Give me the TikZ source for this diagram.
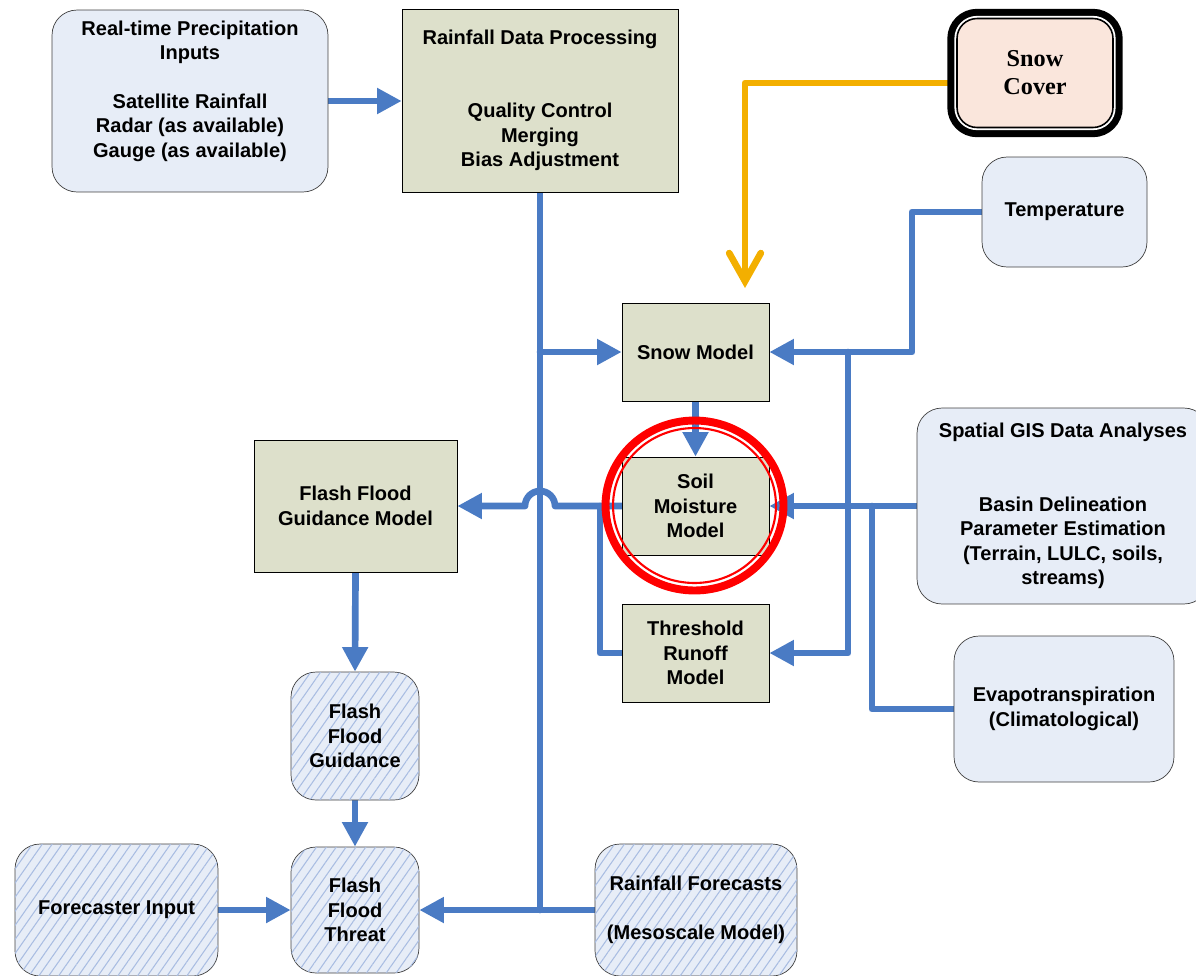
\documentclass[tikz,border=0pt]{standalone}
\usepackage{fontspec}
\setmainfont{Liberation Sans}
\newfontfamily\coverserif{Liberation Serif}
\usepackage{tikz}
\usetikzlibrary{arrows.meta,backgrounds,patterns.meta}
\definecolor{flowblue}{HTML}{4A7BC4}
\definecolor{snoworange}{HTML}{F3AF00}
\definecolor{paleblue}{HTML}{E7EDF7}
\definecolor{hatchblue}{HTML}{A9BDE2}
\definecolor{modelfill}{HTML}{DDE0CB}
\definecolor{peach}{HTML}{FAE6DC}
\definecolor{edgegray}{HTML}{404040}
\newcommand{\boxfont}{\fontsize{11.4}{13.9}\selectfont\bfseries}
\tikzstyle{inbox}=[rectangle,rounded corners=0.5cm,draw=edgegray,fill=paleblue,align=center,font=\boxfont]
\tikzstyle{hatchbox}=[inbox,postaction={pattern={Lines[angle=55,distance=4.6pt,line width=0.6pt]},pattern color=hatchblue}]
\tikzstyle{model}=[rectangle,draw=black,fill=modelfill,align=center,font=\boxfont]
\tikzstyle{cover}=[rectangle,rounded corners=0.4cm,fill=peach,draw=black,line width=0.9pt,preaction={draw=black,line width=11pt},preaction={draw=white,line width=3pt},align=center,font=\fontsize{13.8}{15.9}\selectfont\coverserif\bfseries]
\tikzstyle{link}=[draw=flowblue,line width=3.8pt,line cap=round,line join=round]
\tikzstyle{flow}=[link,-{Triangle[length=14pt,width=14pt]}]
\tikzstyle{snowflow}=[draw=snoworange,line width=3.8pt,line cap=round,line join=round,-{Straight Barb[length=16pt,width=18pt,line cap=round]}]

\begin{document}
\begin{tikzpicture}[x=0.02cm,y=-0.02cm]
        \useasboundingbox (0,0) rectangle (1196,975);
        \clip (0,0) rectangle (1196,975);

        \node at (190,101) [inbox,minimum width=5.52cm,minimum height=3.64cm] (rt) {Real-time Precipitation\\Inputs\\~\\Satellite Rainfall\\Radar (as available)\\Gauge (as available)\\~};
        \node at (540,100.5) [model,minimum width=5.52cm,minimum height=3.66cm] (rdp) {Rainfall Data Processing\\~\\~\\Quality Control\\Merging\\Bias Adjustment};
        \node at (1035,73) [cover,minimum width=3.12cm,minimum height=2.18cm] (snowcov) {Snow\\Cover};
        \node at (1064.5,212) [inbox,minimum width=3.3cm,minimum height=2.2cm] (temp) {Temperature};
        \node at (695.5,352) [model,minimum width=2.94cm,minimum height=1.96cm] (snowm) {Snow Model};
        \node at (695.5,506) [model,minimum width=2.94cm,minimum height=1.96cm] (soilm) {Soil\\Moisture\\Model};
        \node at (695.5,653) [model,minimum width=2.94cm,minimum height=1.96cm] (thr) {Threshold\\Runoff\\Model};
        \node at (355.5,506) [model,minimum width=4.06cm,minimum height=2.64cm] (ffgm) {Flash Flood\\Guidance Model};
        \node at (1063,506) [inbox,minimum width=5.84cm,minimum height=3.92cm] (gis) {Spatial GIS Data Analyses\\~\\~\\Basin Delineation\\Parameter Estimation\\(Terrain, LULC, soils,\\streams)};
        \node at (1064,709) [inbox,minimum width=4.4cm,minimum height=2.92cm] (evap) {Evapotranspiration\\(Climatological)};
        \node at (355,736) [hatchbox,minimum width=2.56cm,minimum height=2.56cm] (ffg) {Flash\\Flood\\Guidance};
        \node at (355,910) [hatchbox,minimum width=2.56cm,minimum height=2.52cm] (fft) {Flash\\Flood\\Threat};
        \node at (116.5,910) [hatchbox,minimum width=4.06cm,minimum height=2.64cm] (fci) {Forecaster Input};
        \node at (696,910) [hatchbox,minimum width=4.04cm,minimum height=2.64cm] (rf) {Rainfall Forecasts\\~\\(Mesoscale Model)};

        \coordinate (snowtip) at (745,288);

        \begin{scope}[on background layer]
        \draw [flow] (rt.east) -- (rt.east -| rdp.west);
        \draw [link] (rdp.south) -- (540,910);
        \draw [flow] (540,352) -- (snowm.west);
        \draw [flow] (rf.west) -- (fft.east);
        \draw [flow] (fci.east) -- (fft.west);
        \draw [flow] (ffgm.south) -- (ffg.north);
        \draw [flow] (ffg.south) -- (fft.north);
        \draw [flow] (snowm.south) -- (soilm.north);
        \draw [flow] (temp.west) -| (912,352) -- (snowm.east);
        \draw [flow] (848,352) |- (thr.east);
        \draw [flow] (gis.west) -- (soilm.east);
        \draw [link] (evap.west) -| (872,506);
        \draw [flow] (soilm.west) -- (555,506) arc [start angle=0,end angle=180,radius=0.3cm] -- (ffgm.east);
        \draw [link] (thr.west) -| (600,506);
        \draw [snowflow] ([yshift=-0.2cm]snowcov.west) -| (snowtip);
        \end{scope}

        \draw [red,line width=4.5pt] (694.5,505.5) ellipse [x radius=1.78cm,y radius=1.7cm];
        \draw [red,line width=1.2pt] (694.5,505.5) ellipse [x radius=1.63cm,y radius=1.55cm];
      \end{tikzpicture}
\end{document}
